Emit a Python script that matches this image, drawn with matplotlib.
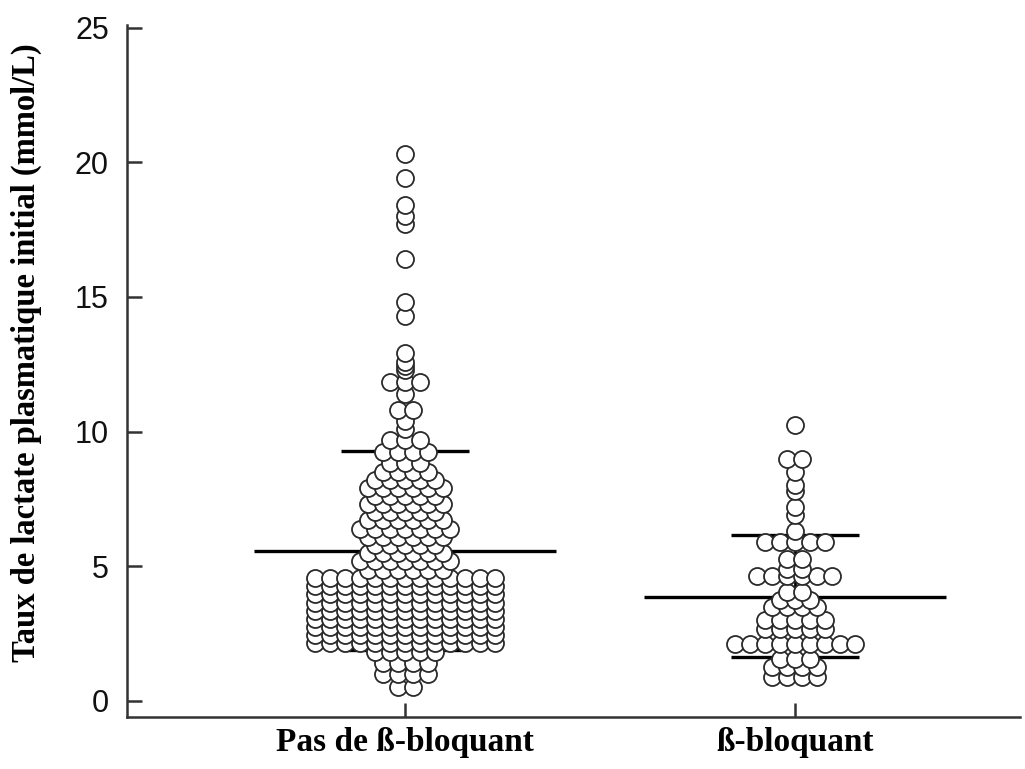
import numpy as np
import matplotlib
matplotlib.use("Agg")
import matplotlib.pyplot as plt

# ---------------- data ----------------
categories = ["Pas de ß-bloquant", "ß-bloquant"]

# each level = a lactate value, count = number of circles at that level
g1_levels = [20.3, 19.4, 18.4, 18.0, 17.7, 16.4, 14.8, 14.3, 12.9, 12.6, 12.45, 12.3,
             11.85, 11.4, 10.8, 10.4, 10.1, 9.7, 9.25, 8.85, 8.5, 8.2, 7.9, 7.6, 7.3,
             7.0, 6.7, 6.4, 6.1, 5.8, 5.5, 5.2, 4.85, 4.55, 4.25, 3.95, 3.65, 3.35,
             3.05, 2.75, 2.45, 2.15, 1.8, 1.4, 1.0, 0.5]
g1_counts = [1, 1, 1, 1, 1, 1, 1, 1, 1, 1, 1, 1,
             3, 1, 2, 1, 1, 3, 4, 3, 4, 5, 6, 5, 6,
             5, 6, 7, 6, 5, 6, 7, 6, 13, 13, 13, 13, 13,
             13, 13, 13, 13, 5, 4, 4, 2]

g2_levels = [10.25, 9.0, 8.5, 8.0, 7.8, 7.2, 6.9, 6.3, 5.9, 5.25, 4.9, 4.65, 4.05,
             3.75, 3.5, 3.0, 2.65, 2.1, 1.55, 1.25, 0.9]
g2_counts = [1, 2, 1, 1, 1, 1, 1, 1, 5, 2, 2, 6, 2,
             3, 4, 5, 5, 9, 3, 4, 4]

means = [5.57, 3.85]
sd_upper = [9.27, 6.15]
sd_lower = [1.88, 1.62]

yticks = [0, 5, 10, 15, 20, 25]

groups = [(g1_levels, g1_counts), (g2_levels, g2_counts)]

# ---------------- figure ----------------
fig = plt.figure(figsize=(10.25, 7.69), dpi=100)
ax = fig.add_axes([127 / 1025, 1 - 717 / 769, (1020 - 127) / 1025, (717 - 25) / 769])
ax.set_xlim(-0.713, 1.577)
ax.set_ylim(-0.6, 25.1)

spine_col = "#333333"
for s in ["top", "right"]:
    ax.spines[s].set_visible(False)
for s in ["left", "bottom"]:
    ax.spines[s].set_color(spine_col)
    ax.spines[s].set_linewidth(1.8)


def scatter_layout(xc, levels, counts, rx=15.0, ry=6.5, step=7.5):
    """GraphPad-like scatter: circles at one level sit side by side, centred;
    a level that would collide with an earlier one is shifted sideways."""
    levels = np.asarray(levels, float)
    counts = np.asarray(counts, int)
    ypx = ax.transData.transform(np.column_stack([np.full(len(levels), xc), levels]))
    x0 = ypx[0, 0]
    order = np.argsort(levels)
    placed = []  # (x, y) in pixels
    xs_out, vs_out = [], []
    shifts = [0.0]
    for k in range(1, 40):
        shifts += [-k * step, k * step]
    for i in order:
        y = ypx[i, 1]
        n = counts[i]
        base = (np.arange(n) - (n - 1) / 2.0) * rx
        near = [(a, b) for a, b in placed if abs(b - y) < ry]
        chosen = 0.0
        for c in shifts:
            ok = True
            for a, b in near:
                d = ((c + base - a) / rx) ** 2 + ((y - b) / ry) ** 2
                if np.any(d < 0.999):
                    ok = False
                    break
            if ok:
                chosen = c
                break
        for off in base + chosen:
            placed.append((x0 + off, y))
            xs_out.append(x0 + off)
            vs_out.append(levels[i])
    disp = np.column_stack([xs_out, ax.transData.transform(
        np.column_stack([np.full(len(vs_out), xc), vs_out]))[:, 1]])
    return ax.transData.inverted().transform(disp)[:, 0], np.array(vs_out)


mean_hw = 0.387
sd_hw = 0.164
for i, (lv, ct) in enumerate(groups):
    ax.plot([i, i], [sd_lower[i], sd_upper[i]], color="black", lw=2.0, zorder=1)
    ax.plot([i - mean_hw, i + mean_hw], [means[i]] * 2, color="black", lw=2.4,
            solid_capstyle="butt", zorder=1)
    for v in (sd_upper[i], sd_lower[i]):
        ax.plot([i - sd_hw, i + sd_hw], [v, v], color="black", lw=2.4,
                solid_capstyle="butt", zorder=1)
    xs, vs = scatter_layout(i, lv, ct)
    ax.scatter(xs, vs, s=150, facecolor="white", edgecolor="#2a2a2a",
               linewidth=1.3, zorder=3)

ax.set_yticks(yticks)
ax.set_yticklabels([str(t) for t in yticks], fontfamily="Liberation Sans",
                   fontsize=22, color="#111111")
ax.set_xticks([0, 1])
ax.set_xticklabels(categories, fontfamily="Liberation Serif", fontweight="bold",
                   fontsize=24, color="black")
ax.tick_params(axis="y", direction="in", length=11, width=1.8, color=spine_col, pad=13)
ax.tick_params(axis="x", direction="in", length=10, width=1.8, color=spine_col, pad=7)

ax.set_ylabel("Taux de lactate plasmatique initial (mmol/L)", fontfamily="Liberation Serif",
              fontweight="bold", fontsize=23.5, va="center")
ax.yaxis.set_label_coords(-0.113, 0.526)

fig.savefig("out.png", dpi=100)
